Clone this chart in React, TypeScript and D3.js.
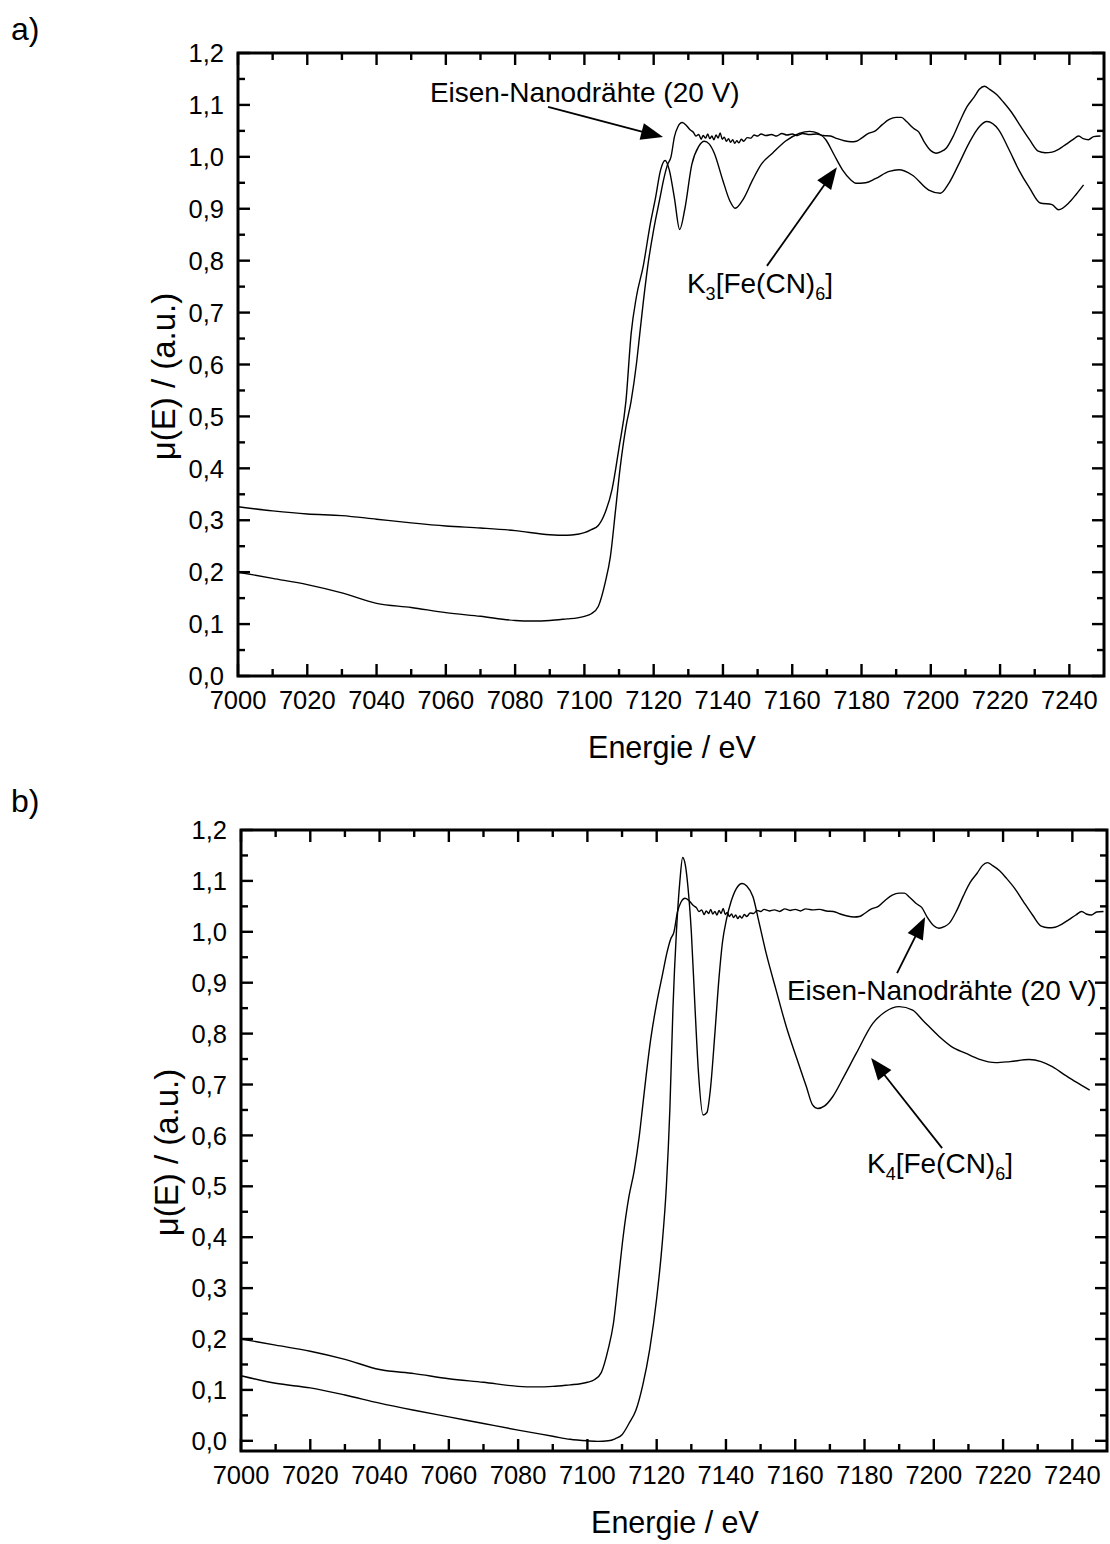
import React from "react";
import * as d3 from "d3";

// ---------- DATA ----------
const eisenEnergy = [
  7000, 7010, 7020, 7030, 7040, 7050, 7060, 7070, 7080, 7085, 7090, 7095, 7098, 7100, 7102, 7104, 7106, 7107.5, 7109,
  7110.3, 7112, 7113.5, 7115, 7116, 7117, 7118.3, 7120, 7121.7, 7123, 7124, 7125, 7126, 7127, 7128.2,
  7129.5, 7130.5, 7131.5, 7132.2, 7133, 7133.7, 7134.3, 7135, 7135.6, 7136.2, 7136.8, 7137.4, 7138, 7138.6, 7139.2,
  7139.8, 7140.4, 7141, 7141.6, 7142.2, 7142.8, 7143.4, 7144, 7144.6, 7145.3, 7146, 7147, 7148, 7149, 7150, 7151,
  7152.5, 7154, 7155.5, 7157, 7158.5, 7160, 7161.5, 7163, 7165, 7167, 7169, 7171, 7173, 7175, 7177, 7178.5, 7180,
  7182, 7184, 7186, 7188, 7190, 7191.5, 7193, 7195, 7196.5, 7198, 7200, 7201.5, 7203, 7204.5, 7206.5, 7208.5,
  7210.5, 7212.5, 7214, 7215.5, 7217, 7219, 7221, 7223.5, 7226, 7228.5, 7231, 7233, 7235, 7237, 7239, 7241,
  7242.7, 7244, 7245.5, 7247, 7249,
];
const eisenMu = [
  0.2, 0.188, 0.176, 0.16, 0.14, 0.132, 0.122, 0.115, 0.107, 0.106, 0.107, 0.11, 0.112, 0.115, 0.12, 0.134, 0.18, 0.23, 0.32,
  0.4, 0.48, 0.53, 0.6, 0.66, 0.72, 0.79, 0.86, 0.917, 0.96, 0.985, 1.0, 1.039, 1.058, 1.066,
  1.06, 1.052, 1.047, 1.04, 1.043, 1.034, 1.041, 1.036, 1.044, 1.035, 1.04, 1.033, 1.042, 1.036, 1.046,
  1.034, 1.038, 1.03, 1.035, 1.028, 1.033, 1.026, 1.031, 1.027, 1.034, 1.03, 1.037, 1.036, 1.042, 1.04, 1.044,
  1.041, 1.043, 1.04, 1.045, 1.042, 1.044, 1.041, 1.045, 1.043, 1.044, 1.041, 1.04, 1.035, 1.031, 1.029, 1.03, 1.036,
  1.045, 1.05, 1.062, 1.072, 1.076, 1.076, 1.068, 1.055, 1.048, 1.03, 1.012, 1.007, 1.01, 1.017, 1.04, 1.07,
  1.097, 1.115, 1.13, 1.136, 1.13, 1.12, 1.105, 1.084, 1.058, 1.033, 1.011, 1.008, 1.009, 1.015, 1.024, 1.033,
  1.04, 1.035, 1.033, 1.039, 1.04,
];

const k3Energy = [
  7000, 7010, 7020, 7030, 7040, 7050, 7060, 7070, 7080, 7090, 7095, 7098, 7100, 7102, 7104, 7106, 7108, 7110, 7112,
  7113.5, 7115, 7117, 7119, 7120.5, 7122, 7123.3, 7124.5, 7126, 7127.5, 7129, 7131, 7133, 7134.6, 7136, 7137.5,
  7139.9, 7142, 7143.5, 7146, 7148.6, 7151, 7154.3, 7158, 7162, 7165, 7167.5, 7169.7, 7172, 7174.5, 7177, 7178.3,
  7181.2, 7184, 7188, 7190.8, 7194.6, 7199.4, 7202.8, 7205.2, 7208, 7211, 7214, 7216.2, 7219.6, 7222.5, 7225.4,
  7228.5, 7231.6, 7235, 7236.9, 7239.8, 7242, 7244.1,
];
const k3Mu = [
  0.326, 0.318, 0.312, 0.309, 0.302, 0.295, 0.289, 0.285, 0.28, 0.272, 0.271, 0.273, 0.276, 0.282, 0.29, 0.315, 0.36,
  0.44, 0.53, 0.66, 0.73, 0.79, 0.87, 0.92, 0.975, 0.993, 0.975, 0.92, 0.86, 0.9, 0.985, 1.02, 1.03, 1.025, 1.007,
  0.956, 0.915, 0.901, 0.92, 0.956, 0.985, 1.007, 1.03, 1.045, 1.049, 1.045, 1.033, 1.005, 0.975, 0.955, 0.949,
  0.95, 0.958, 0.972, 0.975, 0.965, 0.936, 0.93, 0.949, 0.985, 1.026, 1.058, 1.068, 1.052, 1.015, 0.975,
  0.94, 0.911, 0.908, 0.898, 0.911, 0.928, 0.946,
];

const k4Energy = [
  7000, 7010, 7020, 7030, 7040, 7050, 7060, 7070, 7080, 7090, 7095, 7100, 7103, 7106, 7108, 7110, 7112, 7114, 7116,
  7118, 7120, 7121.5, 7122.8, 7123.8, 7124.7, 7125.7, 7126.7, 7127.5, 7128.3, 7129, 7130, 7131, 7132, 7133.4,
  7134.5, 7135.5, 7136.8, 7138, 7139, 7140.1, 7141.5, 7143, 7144.7, 7146, 7147.8, 7149.5, 7151.6, 7154.5, 7157.4,
  7160.5, 7163.2, 7165, 7166.5, 7168.5, 7170.8, 7174, 7177.6, 7182.4, 7186, 7190, 7193.9, 7197, 7201.6, 7205,
  7209.3, 7213, 7217.9, 7222, 7227.5, 7231, 7234.2, 7238, 7241, 7245,
];
const k4Mu = [
  0.128, 0.113, 0.104, 0.09, 0.074, 0.06, 0.047, 0.034, 0.021, 0.009, 0.003, 0.0, -0.001, 0.0, 0.004, 0.012, 0.034,
  0.06, 0.11, 0.18, 0.28, 0.38, 0.5, 0.65, 0.85, 1.0, 1.1, 1.146, 1.13, 1.09, 1.0, 0.86, 0.73, 0.64,
  0.645, 0.69, 0.8, 0.91, 0.98, 1.023, 1.06, 1.085, 1.095, 1.09, 1.069, 1.02, 0.958, 0.885, 0.814,
  0.75, 0.696, 0.66, 0.653, 0.658, 0.676, 0.715, 0.761, 0.82, 0.843, 0.853, 0.846, 0.825, 0.794, 0.775,
  0.761, 0.75, 0.743, 0.745, 0.749, 0.745, 0.735, 0.718, 0.705, 0.689,
];

const xMajorTicks = [7000, 7020, 7040, 7060, 7080, 7100, 7120, 7140, 7160, 7180, 7200, 7220, 7240];
const yMajorTicks = [0.0, 0.1, 0.2, 0.3, 0.4, 0.5, 0.6, 0.7, 0.8, 0.9, 1.0, 1.1, 1.2];

const xTitle = "Energie / eV";
const yTitle = "\u03bc(E) / (a.u.)";
const eisenLabel = "Eisen-Nanodrähte (20 V)";

// ---------- LAYOUT ----------
const FONT = "'Liberation Sans', Arial, Helvetica, sans-serif";

type Series = { e: number[]; v: number[] };
type Ann = {
  textE: number; textV: number;
  parts: { t: string; sub?: boolean }[];
  fromE: number; fromV: number; toE: number; toV: number;
};

function Arrow({ x1, y1, x2, y2 }: { x1: number; y1: number; x2: number; y2: number }) {
  const dx = x2 - x1, dy = y2 - y1;
  const len = Math.hypot(dx, dy);
  const ux = dx / len, uy = dy / len;
  const hl = 22, hw = 8.5;
  const bx = x2 - ux * hl, by = y2 - uy * hl;
  const px = -uy, py = ux;
  const pts = [
    [x2, y2],
    [bx + px * hw, by + py * hw],
    [bx - px * hw, by - py * hw],
  ];
  return (
    <g>
      <line x1={x1} y1={y1} x2={bx + ux * 2} y2={by + uy * 2} stroke="#000" strokeWidth={1.8} />
      <polygon points={pts.map((p) => p.join(",")).join(" ")} fill="#000" />
    </g>
  );
}

function Panel({
  left, right, top, bottom, yMin, series, anns, label, labelY, clipId,
}: {
  left: number; right: number; top: number; bottom: number; yMin: number;
  series: Series[]; anns: Ann[]; label: string; labelY: number; clipId: string;
}) {
  const x = d3.scaleLinear().domain([7000, 7250]).range([left, right]);
  const y = d3.scaleLinear().domain([yMin, 1.2]).range([bottom, top]);
  const line = d3
    .line<[number, number]>()
    .x((d) => x(d[0]))
    .y((d) => y(d[1]))
    .curve(d3.curveMonotoneX);

  const xMinor = d3.range(7010, 7250, 20);
  const yMinor = d3.range(0.05, 1.2, 0.1).filter((v) => v > yMin);
  const yMaj = yMajorTicks.filter((v) => v >= yMin);
  const fmt = (v: number) => d3.format(".1f")(v).replace(".", ",");
  const MAJ = 12, MIN = 7;

  return (
    <g>
      <text x={11} y={labelY} fontSize={32} fontFamily={FONT}>{label}</text>
      <defs>
        <clipPath id={clipId}>
          <rect x={left} y={top} width={right - left} height={bottom - top} />
        </clipPath>
      </defs>
      <g clipPath={`url(#${clipId})`}>
        {series.map((s, i) => (
          <path
            key={i}
            d={line(s.e.map((e, j) => [e, s.v[j]] as [number, number])) || ""}
            fill="none"
            stroke="#000"
            strokeWidth={1.4}
          />
        ))}
      </g>
      {/* ticks */}
      <g stroke="#000" strokeWidth={2.4}>
        {xMajorTicks.map((t) => (
          <g key={"xm" + t}>
            <line x1={x(t)} x2={x(t)} y1={bottom} y2={bottom - MAJ} />
            <line x1={x(t)} x2={x(t)} y1={top} y2={top + MAJ} />
          </g>
        ))}
        {xMinor.map((t) => (
          <g key={"xn" + t}>
            <line x1={x(t)} x2={x(t)} y1={bottom} y2={bottom - MIN} />
            <line x1={x(t)} x2={x(t)} y1={top} y2={top + MIN} />
          </g>
        ))}
        {yMaj.map((t) => (
          <g key={"ym" + t}>
            <line x1={left} x2={left + MAJ} y1={y(t)} y2={y(t)} />
            <line x1={right} x2={right - MAJ} y1={y(t)} y2={y(t)} />
          </g>
        ))}
        {yMinor.map((t) => (
          <g key={"yn" + t}>
            <line x1={left} x2={left + MIN} y1={y(t)} y2={y(t)} />
            <line x1={right} x2={right - MIN} y1={y(t)} y2={y(t)} />
          </g>
        ))}
      </g>
      <rect x={left} y={top} width={right - left} height={bottom - top} fill="none" stroke="#000" strokeWidth={3} />
      {/* tick labels */}
      <g fontFamily={FONT} fontSize={25.5} fill="#000">
        {xMajorTicks.map((t) => (
          <text key={"xl" + t} x={x(t)} y={bottom + 33} textAnchor="middle">{t}</text>
        ))}
        {yMaj.map((t) => (
          <text key={"yl" + t} x={left - 14} y={y(t)} dy="0.36em" textAnchor="end">{fmt(t)}</text>
        ))}
      </g>
      <text x={(left + right) / 2 + 1} y={bottom + 82} fontSize={30.5} fontFamily={FONT} textAnchor="middle">{xTitle}</text>
      <text
        transform={`translate(${left - 63},${(top + bottom) / 2 + 12}) rotate(-90)`}
        fontSize={33}
        fontFamily={FONT}
        textAnchor="middle"
      >
        {yTitle}
      </text>
      {/* annotations */}
      {anns.map((a, i) => (
        <g key={"a" + i}>
          <Arrow x1={x(a.fromE)} y1={y(a.fromV)} x2={x(a.toE)} y2={y(a.toV)} />
          <text x={x(a.textE)} y={y(a.textV)} fontSize={28} fontFamily={FONT}>
            {a.parts.map((p, j) =>
              p.sub ? (
                <tspan key={j} fontSize={18} dy={7}>{p.t}</tspan>
              ) : (
                <tspan key={j} dy={j > 0 && a.parts[j - 1].sub ? -7 : 0}>{p.t}</tspan>
              )
            )}
          </text>
        </g>
      ))}
    </g>
  );
}

export default function App() {
  const eisen = { e: eisenEnergy, v: eisenMu };
  const k3 = { e: k3Energy, v: k3Mu };
  const k4 = { e: k4Energy, v: k4Mu };

  const annsTop: Ann[] = [
    { textE: 7055.4, textV: 1.106, parts: [{ t: eisenLabel }], fromE: 7089.5, fromV: 1.096, toE: 7122.7, toV: 1.038 },
    {
      textE: 7129.6, textV: 0.738,
      parts: [{ t: "K" }, { t: "3", sub: true }, { t: "[Fe(CN)" }, { t: "6", sub: true }, { t: "]" }],
      fromE: 7152.7, fromV: 0.79, toE: 7172.9, toV: 0.98,
    },
  ];
  const annsBottom: Ann[] = [
    { textE: 7157.6, textV: 0.866, parts: [{ t: eisenLabel }], fromE: 7189.4, fromV: 0.919, toE: 7197.5, toV: 1.029 },
    {
      textE: 7180.7, textV: 0.526,
      parts: [{ t: "K" }, { t: "4", sub: true }, { t: "[Fe(CN)" }, { t: "6", sub: true }, { t: "]" }],
      fromE: 7202.4, fromV: 0.575, toE: 7181.9, toV: 0.752,
    },
  ];

  return (
    <svg
      width={1110}
      height={1544}
      style={{ position: "absolute", left: 0, top: 0, background: "#fff" }}
    >
      <rect x={0} y={0} width={1110} height={1544} fill="#fff" />
      <Panel
        left={238} right={1104} top={53} bottom={676} yMin={0}
        series={[k3, eisen]} anns={annsTop} label="a)" labelY={40} clipId="clipA"
      />
      <Panel
        left={241} right={1107} top={830} bottom={1451} yMin={-0.02}
        series={[k4, eisen]} anns={annsBottom} label="b)" labelY={812} clipId="clipB"
      />
    </svg>
  );
}
